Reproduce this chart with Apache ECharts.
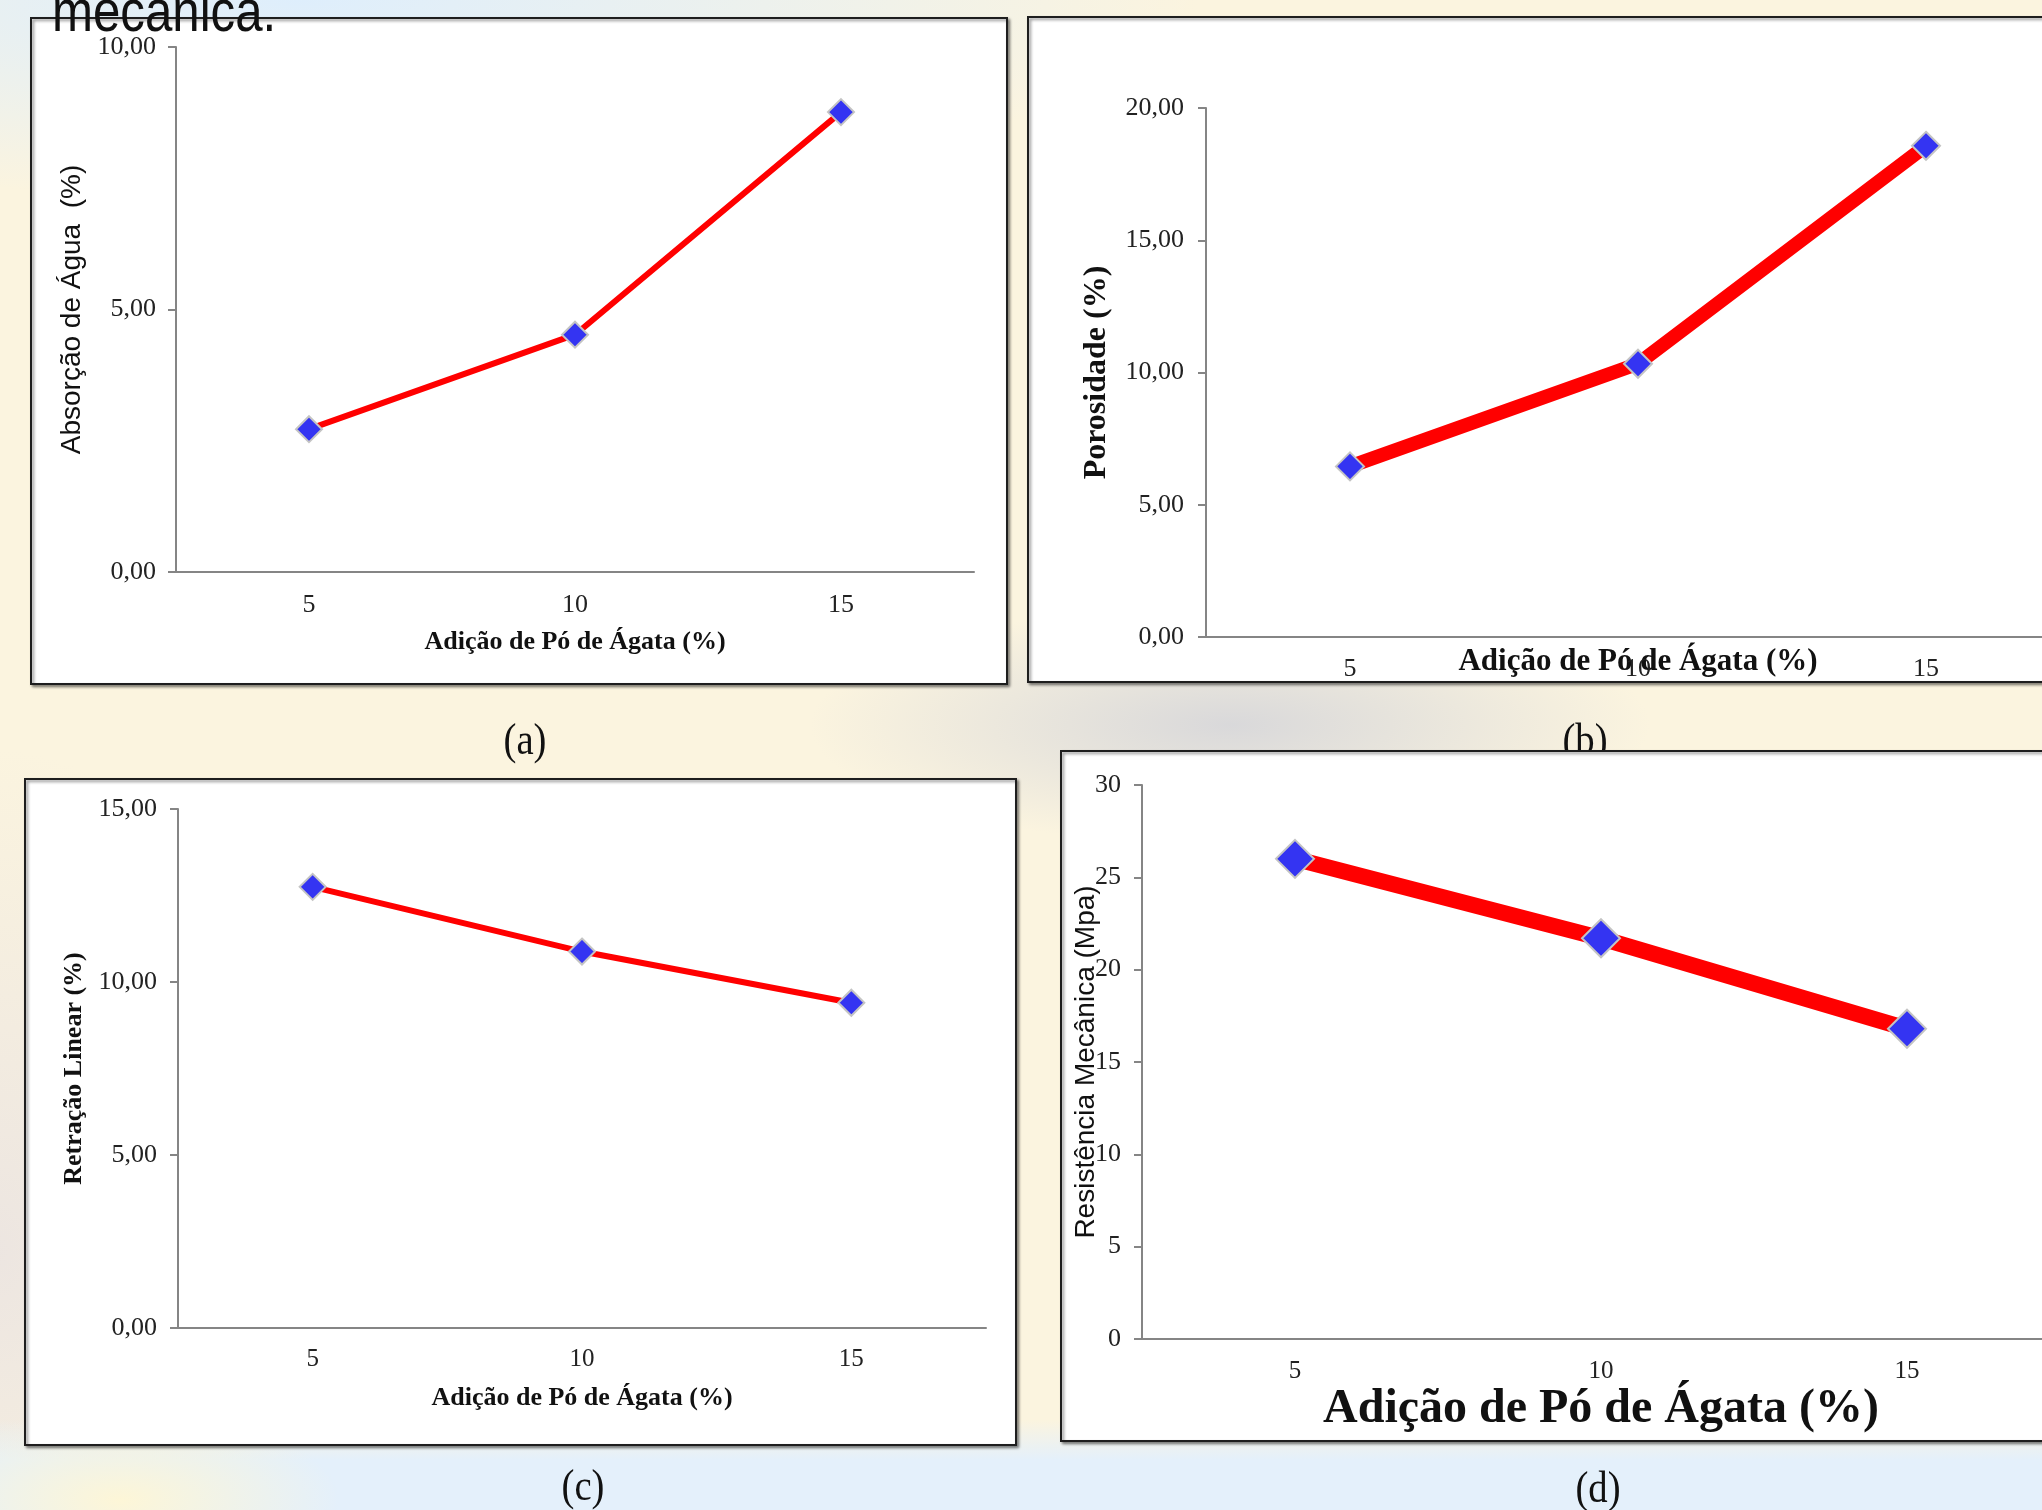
<!DOCTYPE html>
<html>
<head>
<meta charset="utf-8">
<script src="https://cdn.jsdelivr.net/npm/echarts@6/dist/echarts.min.js"></script>
<style>
html,body{margin:0;padding:0;overflow:hidden;width:2042px;height:1510px;}
#bg{position:absolute;left:0;top:0;width:2042px;height:1510px;
background:
 radial-gradient(ellipse 420px 120px at 1230px 725px, rgba(215,215,218,0.95), rgba(215,215,218,0) 100%),
 radial-gradient(ellipse 900px 200px at 300px 0px, rgba(222,238,252,1), rgba(222,238,252,0) 100%),
 radial-gradient(ellipse 220px 90px at 120px 1500px, rgba(253,246,215,1), rgba(253,246,215,0) 100%),
 linear-gradient(to bottom, rgba(228,240,251,0) 0px, rgba(228,240,251,0) 1420px, rgba(228,240,251,1) 1460px),
 radial-gradient(ellipse 300px 500px at 0px 1250px, rgba(235,228,225,0.9), rgba(235,228,225,0) 100%),
 #fbf4df;}
#chart{position:absolute;left:0;top:0;width:2160px;height:1510px;}
</style>
</head>
<body>
<div id="bg"></div>
<div id="chart"></div>
<script>
// ---- data ----
const categories = ['5', '10', '15'];
const absorcaoAgua = [2.72, 4.52, 8.76];
const porosidade = [6.45, 10.33, 18.57];
const retracaoLinear = [12.75, 10.88, 9.40];
const resistenciaMecanica = [26.0, 21.7, 16.8];
const yRangeA = [0, 10, 5];
const yRangeB = [0, 20, 5];
const yRangeC = [0, 15, 5];
const yRangeD = [0, 30, 5];
const xName = 'Adição de Pó de Ágata (%)';
const yNames = ['Absorção de Água  (%)', 'Porosidade (%)', 'Retração Linear (%)', 'Resistência Mecânica (Mpa)'];
const panelLabels = ['(a)', '(b)', '(c)', '(d)'];

const SERIF = "'Liberation Serif','Times New Roman',serif";
const SANS = "'Liberation Sans',Arial,sans-serif";
const AXIS_COLOR = '#858585';
const comma2 = v => v.toFixed(2).replace('.', ',');

const grids = [
  {left: 176, top: 47, width: 798, height: 525},
  {left: 1206, top: 108, width: 864, height: 529},
  {left: 178, top: 809, width: 808, height: 519},
  {left: 1142, top: 785, width: 918, height: 554}
].map(g => Object.assign(g, {outerBoundsMode: 'none', containLabel: false}));

function xAxisCfg(i, o) {
  return {
    type: 'category', gridIndex: i, data: categories, boundaryGap: true, z: 10,
    axisLine: {show: true, lineStyle: {color: AXIS_COLOR, width: 2}},
    axisTick: {show: false},
    axisLabel: {fontFamily: SERIF, fontSize: o.labelSize, color: '#222', margin: o.labelMargin},
    name: xName, nameLocation: 'middle', nameGap: o.nameGap, nameMoveOverlap: false,
    nameTextStyle: {fontFamily: SERIF, fontWeight: 'bold', fontSize: o.nameSize, color: '#111'}
  };
}
function yAxisCfg(i, range, o) {
  return {
    type: 'value', gridIndex: i, min: range[0], max: range[1], interval: range[2], z: 10,
    axisLine: {show: true, lineStyle: {color: AXIS_COLOR, width: 2}},
    axisTick: {show: true, length: 8, lineStyle: {color: AXIS_COLOR, width: 2}},
    splitLine: {show: false},
    axisLabel: {fontFamily: SERIF, fontSize: o.labelSize, color: '#222', margin: o.labelMargin,
      formatter: o.fmt},
    name: yNames[i], nameLocation: 'middle', nameGap: o.nameGap, nameMoveOverlap: false,
    nameTextStyle: {fontFamily: o.nameFamily, fontWeight: o.nameWeight, fontSize: o.nameSize, color: '#111'}
  };
}
function seriesCfg(i, data, lw, sym) {
  return {
    type: 'line', xAxisIndex: i, yAxisIndex: i, data: data, z: 20,
    symbol: 'diamond', symbolSize: sym, showAllSymbol: true,
    lineStyle: {color: '#ff0000', width: lw},
    itemStyle: {color: '#3434f2', borderColor: '#c4c4c4', borderWidth: 2},
    emphasis: {disabled: true}, animation: false
  };
}

const boxStyle = {fill: '#ffffff', stroke: '#1e1e1e', lineWidth: 2,
  shadowBlur: 3, shadowColor: 'rgba(0,0,0,0.45)', shadowOffsetX: 2, shadowOffsetY: 2};

function box(x, y, w, h, z) {
  return {type: 'rect', z: z, silent: true, shape: {x: x, y: y, width: w, height: h}, style: boxStyle};
}
function plabel(t, x, y, z) {
  return {type: 'text', z: z, silent: true, x: x, y: y, scaleX: 0.88,
    style: {text: t, x: 0, y: 0, align: 'center', verticalAlign: 'middle',
      font: '44px ' + SERIF, fill: '#111'}};
}

const option = {
  backgroundColor: 'transparent',
  animation: false,
  grid: grids,
  xAxis: [
    xAxisCfg(0, {labelSize: 26, labelMargin: 20, nameGap: 57, nameSize: 26}),
    xAxisCfg(1, {labelSize: 26, labelMargin: 19, nameGap: 9, nameSize: 31}),
    xAxisCfg(2, {labelSize: 25, labelMargin: 19, nameGap: 57, nameSize: 26}),
    xAxisCfg(3, {labelSize: 25, labelMargin: 20, nameGap: 47, nameSize: 48})
  ],
  yAxis: [
    yAxisCfg(0, yRangeA, {labelSize: 26, labelMargin: 20, fmt: comma2, nameGap: 90, nameSize: 28, nameFamily: SANS, nameWeight: 'normal'}),
    yAxisCfg(1, yRangeB, {labelSize: 26, labelMargin: 22, fmt: comma2, nameGap: 93, nameSize: 32, nameFamily: SERIF, nameWeight: 'bold'}),
    yAxisCfg(2, yRangeC, {labelSize: 26, labelMargin: 21, fmt: comma2, nameGap: 91, nameSize: 26, nameFamily: SERIF, nameWeight: 'bold'}),
    yAxisCfg(3, yRangeD, {labelSize: 26, labelMargin: 21, fmt: v => String(v), nameGap: 42, nameSize: 28, nameFamily: SANS, nameWeight: 'normal'})
  ],
  series: [
    seriesCfg(0, absorcaoAgua, 6, 26),
    seriesCfg(1, porosidade, 14, 28),
    seriesCfg(2, retracaoLinear, 6, 26),
    seriesCfg(3, resistenciaMecanica, 16, 38)
  ],
  graphic: {elements: [
    box(31, 18, 976, 666, 1),
    box(1028, 17, 1100, 665, 1),
    box(25, 779, 991, 666, 1),
    plabel(panelLabels[0], 525, 742, 2),
    plabel(panelLabels[1], 1585, 742, 2),
    box(1061, 751, 1100, 690, 3),
    plabel(panelLabels[2], 583, 1488, 2),
    plabel(panelLabels[3], 1598, 1490, 2),
    {type: 'text', z: 50, silent: true, x: 52, y: 14, scaleX: 0.82,
      style: {text: 'mecanica.', x: 0, y: 0, align: 'left', verticalAlign: 'middle',
        font: '60px ' + SANS, fill: '#111'}}
  ]}
};

const chart = echarts.init(document.getElementById('chart'), null, {renderer: 'canvas'});
chart.setOption(option);
</script>
</body>
</html>
